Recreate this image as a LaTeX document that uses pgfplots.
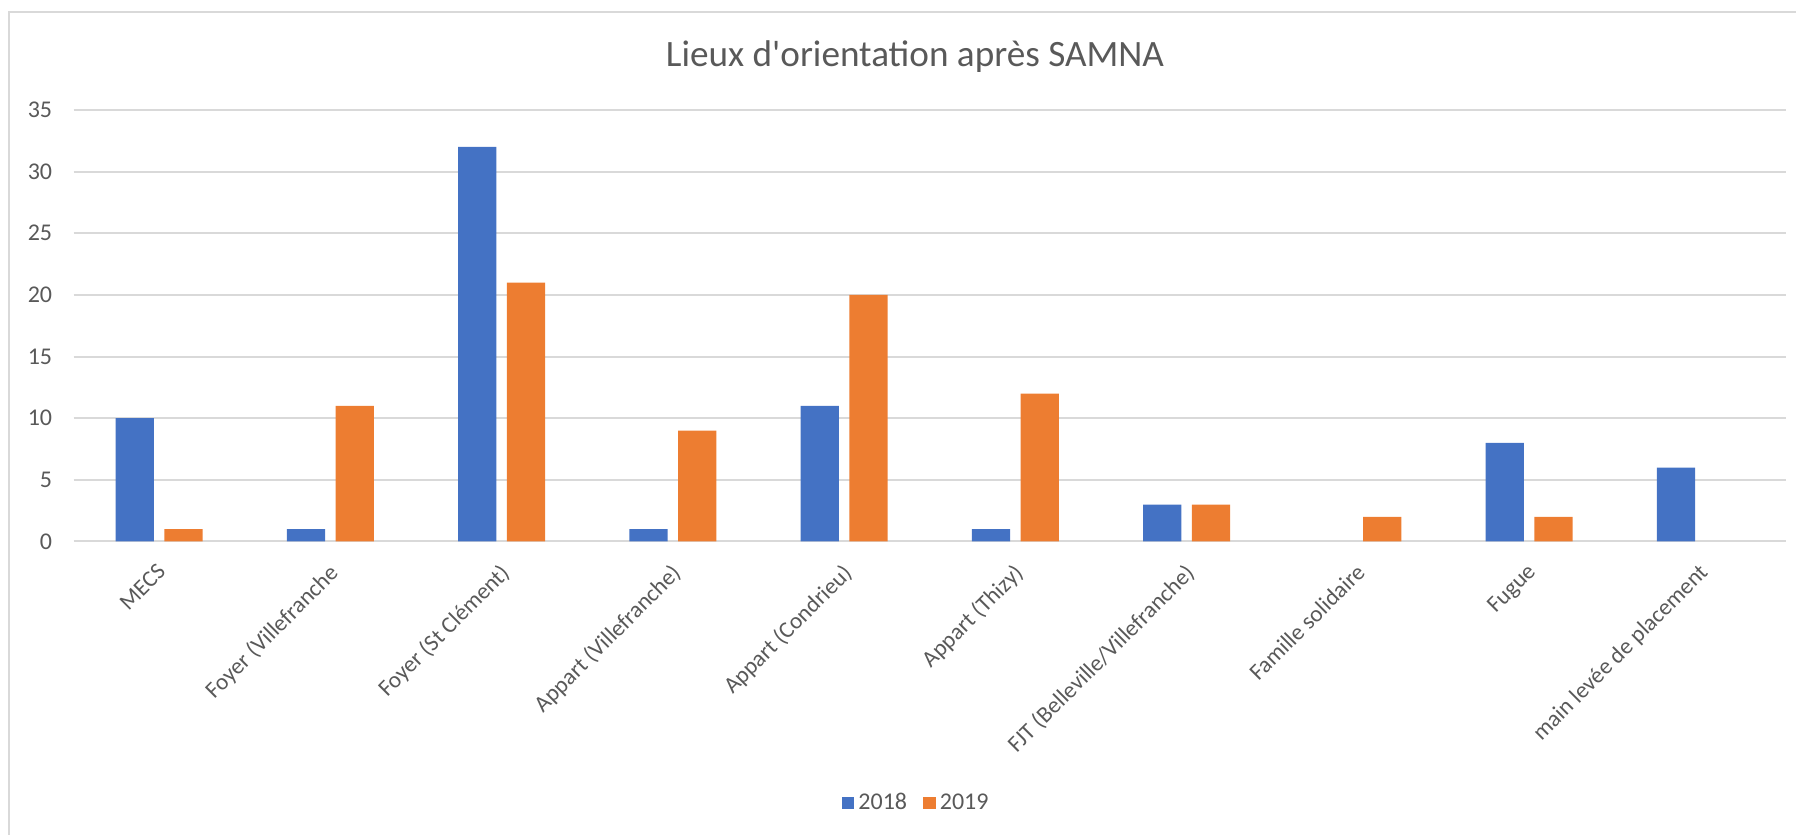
\documentclass[border=0pt]{standalone}
\usepackage{fontspec}
\setmainfont{Carlito}
\newfontfamily\plainfont{Carlito}
\usepackage{pgfplots}
\pgfplotsset{compat=1.18}
\definecolor{bblue}{HTML}{4472C4}
\definecolor{borange}{HTML}{ED7D31}
\definecolor{txt}{HTML}{595959}
\definecolor{gridc}{HTML}{D9D9D9}
\begin{document}
\begin{tikzpicture}
\useasboundingbox (0,0) rectangle (898pt,417.5pt);
\draw[gridc, line width=1pt] (4.5pt,-2pt) -- (4.5pt,411.5pt) -- (900pt,411.5pt);
\node[anchor=base, text=txt, font=\plainfont\fontsize{18.6}{22}\selectfont, inner sep=0pt] at (457.5pt,384.15pt) {Lieux d'orientation après SAMNA};
\begin{axis}[
  at={(36.75pt,146.75pt)}, anchor=south west,
  scale only axis, width=856.25pt, height=215.75pt,
  xmin=-0.5, xmax=9.5, ymin=0, ymax=35,
  clip=false,
  axis line style={draw=none},
  major tick length=0pt,
  ytick={0,5,...,35},
  ymajorgrids, major grid style={gridc, line width=1pt},
  xtick={0,...,9},
  xticklabels={MECS, Foyer (Villefranche, Foyer (St Clément), Appart (Villefranche), Appart (Condrieu), Appart (Thizy), FJT (Belleville/Villefranche), Famille solidaire, Fugue, main levée de placement},
  /pgf/number format/assume math mode=true,
  tick label style={font=\fontsize{12}{14}\selectfont, text=txt},
  yticklabel style={anchor=east, inner sep=0pt, xshift=-10.5pt},
  xticklabel style={font=\fontsize{11.6}{14}\selectfont, inner sep=0pt, anchor=north east, xshift=-1.5pt, yshift=-10.25pt, rotate=45},
  legend style={at={(0.4926,-0.606)}, anchor=center, draw=none, fill=none,
    legend columns=2, font=\fontsize{12}{14}\selectfont, text=txt,
    /tikz/every even column/.append style={column sep=6pt}},
]
\addplot[ybar, fill=bblue, draw=none, bar width=0.2237, bar shift=-0.142,
  legend image code/.code={\fill[bblue] (0pt,-3.2pt) rectangle (6.4pt,3.2pt);}]
  coordinates {(0,10) (1,1) (2,32) (3,1) (4,11) (5,1) (6,3) (8,8) (9,6)};
\addplot[ybar, fill=borange, draw=none, bar width=0.2237, bar shift=0.142,
  legend image code/.code={\fill[borange] (0pt,-3.2pt) rectangle (6.4pt,3.2pt);}]
  coordinates {(0,1) (1,11) (2,21) (3,9) (4,20) (5,12) (6,3) (7,2) (8,2)};
\legend{2018,2019}
\end{axis}
\end{tikzpicture}
\end{document}
